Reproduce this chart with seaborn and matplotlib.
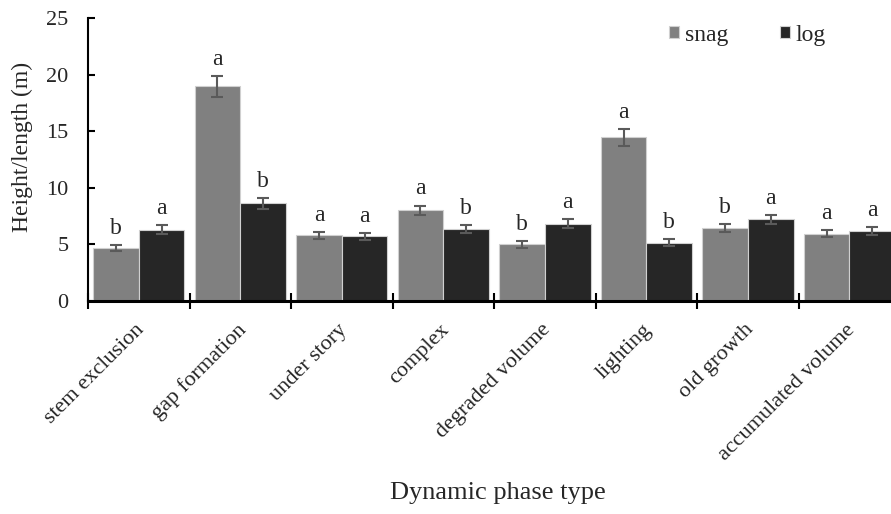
import matplotlib
matplotlib.use("Agg")
import matplotlib.pyplot as plt
import matplotlib.transforms as mtransforms
import seaborn as sns
import pandas as pd
import numpy as np

categories = ["stem exclusion", "gap formation", "under story", "complex",
              "degraded volume", "lighting", "old growth", "accumulated volume"]
snag_vals = [4.65, 18.95, 5.8, 8.0, 5.0, 14.47, 6.46, 5.96]
snag_err = [0.27, 0.95, 0.32, 0.43, 0.28, 0.75, 0.34, 0.32]
snag_letters = ["b", "a", "a", "a", "b", "a", "b", "a"]
log_vals = [6.3, 8.62, 5.7, 6.37, 6.84, 5.16, 7.2, 6.2]
log_err = [0.37, 0.45, 0.3, 0.34, 0.37, 0.28, 0.4, 0.33]
log_letters = ["a", "b", "a", "b", "a", "b", "a", "a"]
series = ["snag", "log"]
colors = ["#808080", "#262626"]

df = pd.DataFrame({
    "phase": categories * 2,
    "type": ["snag"] * len(categories) + ["log"] * len(categories),
    "value": snag_vals + log_vals,
})

sns.set_theme(style="white")
plt.rcParams["font.family"] = ["Liberation Serif", "DejaVu Serif"]

fig = plt.figure(figsize=(8.91, 5.14), dpi=100)
ax = fig.add_axes([88 / 891, 1 - 301 / 514, 1 - 88 / 891, (301 - 18) / 514])

sns.barplot(data=df, x="phase", y="value", hue="type", order=categories,
            hue_order=series, palette=colors, width=0.9, gap=0,
            errorbar=None, edgecolor="#d0d0d0", linewidth=0.8, ax=ax,
            legend=True)

bar_conts = list(ax.containers)[:2]
errs = [snag_err, log_err]
letters = [snag_letters, log_letters]
vals = [snag_vals, log_vals]
for ci, cont in enumerate(bar_conts):
    for bi, bar in enumerate(cont.patches):
        xc = bar.get_x() + bar.get_width() / 2
        ax.errorbar(xc, vals[ci][bi], yerr=errs[ci][bi], color="#5a5a5a",
                    capsize=4.3, elinewidth=1.5, capthick=1.5, fmt="none")
        ax.annotate(letters[ci][bi], (xc, vals[ci][bi] + errs[ci][bi]),
                    xytext=(0, 8), textcoords="offset points",
                    ha="center", va="baseline", fontsize=17)

ax.set_ylim(0, 25)
ax.set_xlim(-0.5, 7.41)
ax.set_yticks([0, 5, 10, 15, 20, 25])
ax.tick_params(axis="y", which="major", direction="in", length=5, width=1.5,
               labelsize=16, left=True, color="black", pad=14)
ax.set_xticks(range(len(categories)))
ax.set_xticklabels(categories, rotation=45, ha="right", va="top",
                   rotation_mode="anchor", fontsize=16)
ax.tick_params(axis="x", which="major", length=0, pad=14)
offset = mtransforms.ScaledTranslation(-4 / 100, 0, fig.dpi_scale_trans)
for lbl in ax.get_xticklabels():
    lbl.set_transform(lbl.get_transform() + offset)
ax.set_xticks(np.arange(-0.5, 7.5, 1.0), minor=True)
ax.tick_params(axis="x", which="minor", direction="inout", length=11,
               width=1.5, color="black", bottom=True)
for s in ["top", "right"]:
    ax.spines[s].set_visible(False)
for s in ["left", "bottom"]:
    ax.spines[s].set_color("black")
ax.spines["left"].set_linewidth(1.5)
ax.spines["bottom"].set_linewidth(2.2)

ax.set_ylabel("Height/length (m)", fontsize=17)
ax.yaxis.set_label_coords((33 - 88) / 803, (301 - 147) / 283)
ax.set_xlabel("")
fig.text(498 / 891, 1 - 493 / 514, "Dynamic phase type",
         ha="center", va="center", fontsize=19)

handles, labels = ax.get_legend_handles_labels()
ax.legend(handles, labels, loc="center left",
          bbox_to_anchor=(669 / 891, 1 - 35 / 514), bbox_transform=fig.transFigure,
          ncol=2, frameon=False, fontsize=17, handlelength=0.42,
          handleheight=0.42, handletextpad=0.25, columnspacing=2.2,
          borderpad=0, borderaxespad=0, title=None)

fig.savefig("out.png", dpi=100)
